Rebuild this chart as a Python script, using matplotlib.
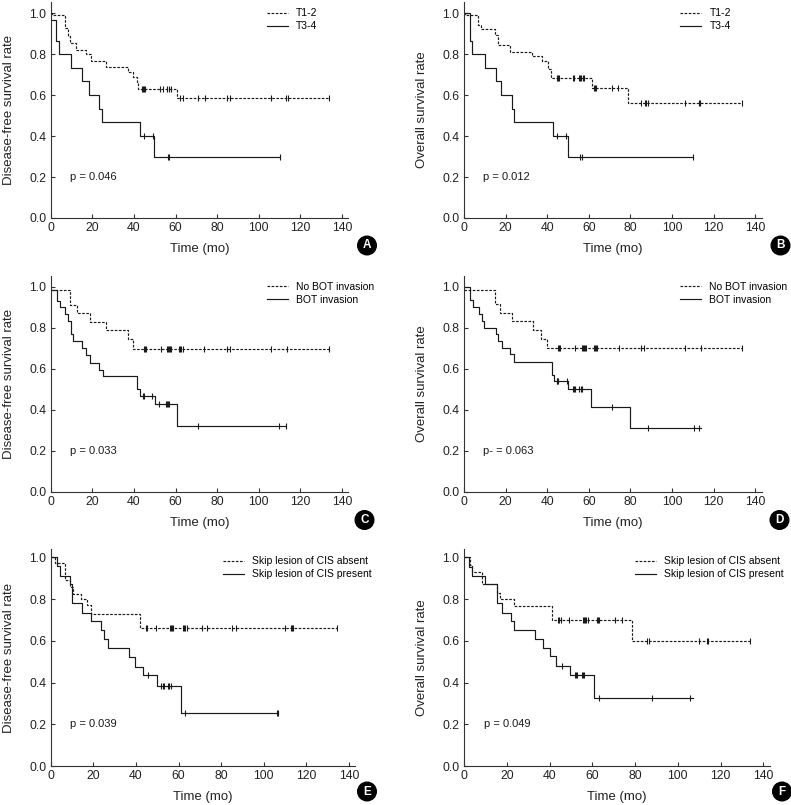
import numpy as np
import matplotlib
matplotlib.use("Agg")
import matplotlib.pyplot as plt
from matplotlib.lines import Line2D
from matplotlib import font_manager

names = {f.name for f in font_manager.fontManager.ttflist}
NARROW = 'Liberation Sans Narrow' in names
plt.rcParams['font.family'] = (['Liberation Sans Narrow'] if NARROW else []) + ['Liberation Sans', 'DejaVu Sans']
K = 1.0 if NARROW else 0.82

INK = '#1a1a1a'

# ---------------- data ----------------
# Panel A: Disease-free survival, T stage
A_t12_time = [0, 0.5, 6.9, 8.5, 9.5, 12, 17, 19.2, 26.6, 37.3, 39.7, 41.3, 42, 60.5, 133.8]
A_t12_surv = [1.0, 0.99, 0.93, 0.89, 0.855, 0.82, 0.80, 0.765, 0.74, 0.715, 0.69, 0.665, 0.63, 0.585, 0.585]
A_t12_cens = [43.7, 44.2, 44.7, 45.3, 52.5, 54, 55.7, 57, 58, 62, 63.7, 71, 74, 84.8, 86, 106, 113, 114, 133.8]
A_t34_time = [0, 2.5, 3.8, 9.8, 14.9, 18.6, 23.2, 24.8, 42.9, 49.8, 110]
A_t34_surv = [0.967, 0.867, 0.80, 0.733, 0.667, 0.60, 0.533, 0.467, 0.40, 0.30, 0.30]
A_t34_cens = [44.8, 49, 56.2, 57, 110]

# Panel B: Overall survival, T stage
B_t12_time = [0, 0.5, 6.9, 8.2, 14.9, 16.2, 22, 32.8, 37.3, 40.2, 41.8, 61.3, 78.9, 133.8]
B_t12_surv = [1.0, 0.99, 0.943, 0.925, 0.894, 0.846, 0.813, 0.79, 0.765, 0.73, 0.683, 0.636, 0.56, 0.56]
B_t12_cens = [44.5, 45, 45.5, 52.2, 52.8, 55.2, 55.8, 56.4, 57, 57.6, 62.4, 63, 63.6, 71.2, 73.8,
              85.3, 87.2, 87.7, 88.2, 106, 113, 113.6, 133.8]
B_t34_time = [0, 2.9, 4.0, 10.1, 15.2, 17.8, 22.9, 24.2, 42.9, 49.8, 110]
B_t34_surv = [1.0, 0.867, 0.80, 0.733, 0.667, 0.60, 0.533, 0.467, 0.40, 0.30, 0.30]
B_t34_cens = [44.8, 48.8, 55.7, 56.5, 110]

# Panel C: Disease-free survival, BOT invasion
C_no_time = [0, 9.3, 12.5, 18.9, 26.6, 37, 39.7, 133.8]
C_no_surv = [0.984, 0.913, 0.87, 0.83, 0.79, 0.745, 0.695, 0.695]
C_no_cens = [44.8, 45.2, 45.6, 53, 55.7, 56.2, 56.7, 57.2, 57.6, 61.6, 62.2, 62.8, 63.4, 73.6,
             84.8, 86, 106, 113.6, 133.8]
C_yes_time = [0, 2.9, 4.5, 6.9, 8.5, 9.8, 10.9, 14.9, 17, 18.9, 23.4, 25.3, 41.3, 42.9, 50.1, 60.8, 113]
C_yes_surv = [0.984, 0.93, 0.90, 0.867, 0.835, 0.77, 0.735, 0.70, 0.665, 0.63, 0.595, 0.565, 0.50,
              0.465, 0.43, 0.32, 0.32]
C_yes_cens = [44.2, 44.8, 48.8, 52, 55.2, 55.7, 56.3, 56.8, 71, 109.8, 113]

# Panel D: Overall survival, BOT invasion
D_no_time = [0, 14.9, 17.3, 23.2, 33.3, 36.8, 40, 133.8]
D_no_surv = [0.984, 0.915, 0.87, 0.835, 0.79, 0.745, 0.70, 0.70]
D_no_cens = [45.3, 45.7, 46, 53.3, 56.5, 57, 57.5, 58, 58.6, 62.4, 63, 63.5, 64, 74.4, 85, 86.6,
             106, 113.8, 133.8]
D_yes_time = [0, 2.9, 4.2, 7.4, 8.8, 9.8, 15.4, 16.5, 18.4, 22.1, 24, 42.1, 43.2, 49.8, 61, 79.7, 113.8]
D_yes_surv = [1.0, 0.935, 0.90, 0.867, 0.835, 0.80, 0.77, 0.735, 0.70, 0.67, 0.635, 0.57, 0.54,
              0.50, 0.415, 0.31, 0.31]
D_yes_cens = [44.5, 44.9, 45.3, 49.3, 52.5, 52.9, 53.3, 55.4, 56, 56.5, 71.2, 88.5, 110.4, 112.8]

# Panel E: Disease-free survival, skip lesion of CIS
E_abs_time = [0, 2, 6.7, 9.1, 10.5, 14, 17, 18.8, 41.9, 134.5]
E_abs_surv = [1.0, 0.971, 0.89, 0.86, 0.825, 0.80, 0.77, 0.73, 0.663, 0.663]
E_abs_cens = [44.6, 45, 49.3, 56, 56.5, 57, 57.6, 62, 62.6, 63.2, 63.8, 70.9, 73.5, 85.2, 87,
              110, 112.8, 113.3, 113.9, 134.5]
E_pre_time = [0, 3.1, 4.4, 9.1, 9.9, 14.5, 18.8, 23.6, 25, 27, 36.9, 39.6, 43.2, 50, 61, 106.8]
E_pre_surv = [1.0, 0.96, 0.91, 0.87, 0.78, 0.735, 0.695, 0.652, 0.61, 0.565, 0.52, 0.475, 0.435,
              0.385, 0.255, 0.255]
E_pre_cens = [45.8, 52, 52.6, 53.2, 55.2, 55.7, 56.3, 63, 106.3, 106.8]

# Panel F: Overall survival, skip lesion of CIS
F_abs_time = [0, 2.8, 3.9, 8.6, 15.3, 16.8, 23.4, 41, 78.7, 133.8]
F_abs_surv = [1.0, 0.965, 0.93, 0.87, 0.83, 0.80, 0.765, 0.70, 0.60, 0.60]
F_abs_cens = [44.1, 44.6, 45.2, 49.1, 55.8, 56.3, 56.8, 57.3, 57.8, 62, 62.6, 63.3, 70.6, 73.7,
              85.4, 86.7, 110, 113.5, 114.3, 133.8]
F_pre_time = [0, 2.3, 3.9, 9.8, 15.3, 17.9, 22, 23.5, 33.2, 37.1, 40, 43, 49.6, 61, 107.3]
F_pre_surv = [1.0, 0.955, 0.91, 0.87, 0.78, 0.735, 0.695, 0.65, 0.61, 0.565, 0.525, 0.48, 0.435,
              0.325, 0.325]
F_pre_cens = [46, 52, 52.4, 52.7, 55.3, 55.7, 56.1, 63.1, 87.8, 105.7]

panel_letters = ['A', 'B', 'C', 'D', 'E', 'F']
y_labels = ['Disease-free survival rate', 'Overall survival rate'] * 3
p_texts = ['p = 0.046', 'p = 0.012', 'p = 0.033', 'p- = 0.063', 'p = 0.039', 'p = 0.049']
legend_labels = [['T1-2', 'T3-4'], ['T1-2', 'T3-4'],
                 ['No BOT invasion', 'BOT invasion'], ['No BOT invasion', 'BOT invasion'],
                 ['Skip lesion of CIS absent', 'Skip lesion of CIS present'],
                 ['Skip lesion of CIS absent', 'Skip lesion of CIS present']]
x_ticks = [0, 20, 40, 60, 80, 100, 120, 140]
y_ticks = [0.0, 0.2, 0.4, 0.6, 0.8, 1.0]

curves = [
    ((A_t12_time, A_t12_surv, A_t12_cens), (A_t34_time, A_t34_surv, A_t34_cens)),
    ((B_t12_time, B_t12_surv, B_t12_cens), (B_t34_time, B_t34_surv, B_t34_cens)),
    ((C_no_time, C_no_surv, C_no_cens), (C_yes_time, C_yes_surv, C_yes_cens)),
    ((D_no_time, D_no_surv, D_no_cens), (D_yes_time, D_yes_surv, D_yes_cens)),
    ((E_abs_time, E_abs_surv, E_abs_cens), (E_pre_time, E_pre_surv, E_pre_cens)),
    ((F_abs_time, F_abs_surv, F_abs_cens), (F_pre_time, F_pre_surv, F_pre_cens)),
]

# ---------------- layout ----------------
W, H = 791, 805
fig = plt.figure(figsize=(W / 100, H / 100), dpi=100)

geom = [(50.7, 218, 291.3, 204.7), (464, 218, 291.3, 204.7),
        (50.7, 491.7, 291.3, 205), (464, 491.7, 291.3, 205),
        (50.7, 766, 298.3, 208.7), (464, 766, 299.3, 208.7)]
XMAX = 143
YMAX = [1.057, 1.057, 1.05, 1.05, 1.04, 1.04]
legend_pos = [(104, 0.99), (104, 0.99), (104, 0.99), (104, 0.99), (81, 0.97), (80, 0.97)]
circle_pos = [(367, 245.5), (780.5, 245.5), (364.5, 520), (779.5, 520), (367, 791.5), (782, 791.5)]

dash = (0, (2.2, 1.3))


def surv_at(times, surv, t):
    idx = np.searchsorted(np.asarray(times), np.asarray(t), side='right') - 1
    return np.asarray(surv)[np.clip(idx, 0, len(surv) - 1)]


for i, ax_geom in enumerate(geom):
    lpx, y0px, px140, px1 = ax_geom
    wpx = px140 / 140 * XMAX
    hpx = px1 * YMAX[i]
    ax = fig.add_axes([lpx / W, 1 - y0px / H, wpx / W, hpx / H])
    ax.set_xlim(0, XMAX)
    ax.set_ylim(0, YMAX[i])

    styles = [dict(ls=dash), dict(ls='-')]
    handles = []
    for (times, surv, cens), st in zip(curves[i], styles):
        ax.step(times, surv, where='post', color=INK, lw=0.85, **st)
        ax.plot(cens, surv_at(times, surv, cens), ls='none', marker='|',
                ms=5, mew=0.8, color=INK)
        handles.append(Line2D([], [], color=INK, lw=0.85, **st))

    lx, ly = legend_pos[i]
    ax.legend(handles, legend_labels[i], loc='upper left',
              bbox_to_anchor=(lx, ly + 0.035), bbox_transform=ax.transData,
              frameon=False, fontsize=9.1 * K, handlelength=2.0, handletextpad=0.8,
              labelspacing=0.3, borderpad=0, borderaxespad=0)

    ax.text(9.2, 0.2, p_texts[i], fontsize=9.8 * K, color=INK, va='center', ha='left')

    for s in ['top', 'right']:
        ax.spines[s].set_visible(False)
    for s in ['left', 'bottom']:
        ax.spines[s].set_linewidth(0.8)
        ax.spines[s].set_color('#333333')
    ax.set_xticks(x_ticks)
    ax.set_yticks(y_ticks)
    ax.set_xticklabels([str(v) for v in x_ticks])
    ax.set_yticklabels([f'{v:.1f}' for v in y_ticks])
    ax.tick_params(direction='in', length=3, width=0.8, color='#333333',
                   labelsize=10.8 * K, labelcolor='#222222', pad=3.2)
    ax.set_xlabel('Time (mo)', fontsize=11.5 * K, color='#222222', labelpad=6.5)
    ax.set_ylabel(y_labels[i], fontsize=11.6 * K, color='#222222', labelpad=10.5)

    cx, cy = circle_pos[i]
    fig.text(cx / W, 1 - cy / H, panel_letters[i], ha='center', va='center',
             fontsize=8.5, fontweight='bold', color='white',
             bbox=dict(boxstyle='circle,pad=0.28', fc='black', ec='black'))

fig.savefig('out.png', dpi=100)
